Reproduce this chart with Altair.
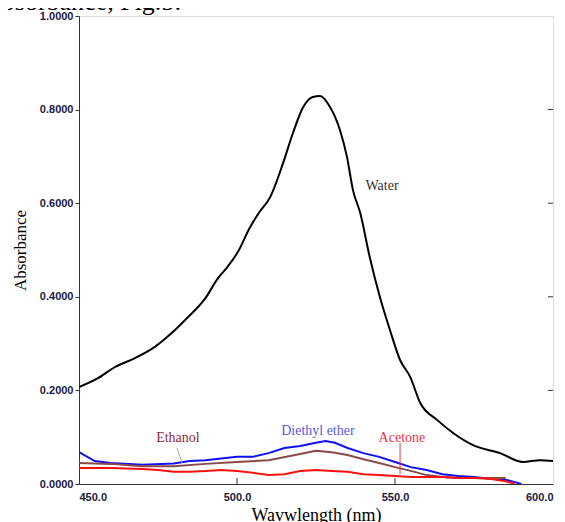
import altair as alt
import pandas as pd

# ---- data ----
water_wl = [450, 456, 461.4, 467.7, 474, 479.4, 483.5, 490, 494, 497, 500.3, 504, 507, 510.5,
            514.6, 517.7, 521, 524, 526.3, 529.4, 532.6, 534.8, 536.7, 539, 542, 545.2,
            548.4, 551.6, 554.8, 558, 563.3, 568.4, 574.7, 583.2, 590.5, 595.9, 600]
water_abs = [0.207, 0.226, 0.250, 0.269, 0.293, 0.323, 0.350, 0.397, 0.440, 0.464, 0.496, 0.547,
             0.580, 0.613, 0.686, 0.750, 0.806, 0.827, 0.829, 0.806, 0.756, 0.699, 0.628, 0.579,
             0.485, 0.400, 0.329, 0.265, 0.229, 0.173, 0.137, 0.109, 0.083, 0.066, 0.047, 0.051, 0.049]

ether_wl = [450, 455, 460, 470, 480, 485, 490, 500, 505, 510, 515, 520, 525, 528, 531, 535,
            540, 545, 550, 555, 560, 565, 570, 575, 580, 585, 588, 590]
ether_abs = [0.068, 0.049, 0.045, 0.041, 0.044, 0.049, 0.051, 0.058, 0.058, 0.066, 0.077, 0.081,
             0.088, 0.092, 0.088, 0.077, 0.066, 0.058, 0.047, 0.036, 0.030, 0.021, 0.017, 0.015,
             0.011, 0.009, 0.004, 0.0]

ethanol_wl = [450, 460, 470, 480, 490, 500, 510, 520, 525, 530, 535, 540, 545, 550, 555, 560,
              565, 570, 575, 580, 585]
ethanol_abs = [0.045, 0.043, 0.038, 0.038, 0.043, 0.047, 0.051, 0.064, 0.071, 0.068, 0.062, 0.053,
               0.045, 0.036, 0.028, 0.019, 0.015, 0.013, 0.013, 0.013, 0.013]

acetone_wl = [450, 460, 470, 475, 480, 485, 490, 495, 500, 505, 510, 515, 520, 525, 530, 535,
              540, 545, 550, 555, 560, 565, 570, 575, 580, 585, 588]
acetone_abs = [0.034, 0.034, 0.032, 0.030, 0.026, 0.026, 0.028, 0.030, 0.028, 0.024, 0.019, 0.021,
               0.028, 0.030, 0.028, 0.026, 0.021, 0.019, 0.017, 0.015, 0.015, 0.015, 0.013, 0.013,
               0.011, 0.006, 0.0]

series_names = ["Water", "Diethyl ether", "Ethanol", "Acetone"]
series_colors = ["#000000", "#1010f0", "#8a4a4a", "#ff1010"]

x_ticks = [450, 500, 550, 600]
y_ticks = [0.0, 0.2, 0.4, 0.6, 0.8, 1.0]

labels = ["Water", "Ethanol", "Diethyl ether", "Acetone"]
label_wl = [545.9, 481.3, 525.6, 552.2]
label_abs = [0.637, 0.098, 0.113, 0.098]
label_colors = ["#333333", "#8b2a3a", "#5a5ae0", "#ee3344"]

# ---- tables ----
rows = []
for name, wl, ab in [("Water", water_wl, water_abs), ("Diethyl ether", ether_wl, ether_abs),
                     ("Ethanol", ethanol_wl, ethanol_abs), ("Acetone", acetone_wl, acetone_abs)]:
    for i, (w, a) in enumerate(zip(wl, ab)):
        rows.append({"series": name, "wl": w, "abs": a, "order": i})
df = pd.DataFrame(rows)

lab_df = pd.DataFrame({"text": labels, "wl": label_wl, "abs": label_abs, "col": label_colors})

xs = alt.Scale(domain=[450, 600], nice=False, zero=False)
ys = alt.Scale(domain=[0, 1.0], nice=False)
cs = alt.Scale(domain=series_names, range=series_colors)

x_enc = alt.X("wl:Q", scale=xs, title="Wavwlength (nm)",
              axis=alt.Axis(values=x_ticks, format=".1f", ticks=False, grid=False,
                            labelFont="Liberation Sans", labelFontWeight="bold", labelFontSize=11,
                            labelColor="#1a1a40", labelPadding=7, domainColor="#333333",
                            titleFont="Liberation Serif", titleFontSize=18, titleFontWeight="normal",
                            titleColor="#000000", titlePadding=4))
y_enc = alt.Y("abs:Q", scale=ys, title="Absorbance",
              axis=alt.Axis(values=y_ticks, format=".4f", tickSize=4, grid=False,
                            tickColor="#333333", domainColor="#333333",
                            labelFont="Liberation Sans", labelFontWeight="bold", labelFontSize=11,
                            labelColor="#1a1a40", labelPadding=2,
                            titleFont="Liberation Serif", titleFontSize=17, titleFontWeight="normal",
                            titleColor="#000000", titlePadding=10))

water = alt.Chart(df[df.series == "Water"]).mark_line(
    strokeWidth=2, clip=True, interpolate="monotone").encode(
    x=x_enc, y=y_enc,
    color=alt.Color("series:N", scale=cs, legend=None),
    order="order:Q",
)

others = alt.Chart(df[df.series != "Water"]).mark_line(strokeWidth=2, clip=True).encode(
    x=alt.X("wl:Q", scale=xs), y=alt.Y("abs:Q", scale=ys),
    color=alt.Color("series:N", scale=cs, legend=None),
    detail="series:N",
    order="order:Q",
)

tick_df = pd.DataFrame({"wl": x_ticks[1:3]})
xtick_marks = alt.Chart(tick_df).mark_rule(color="#333333", strokeWidth=1).encode(
    x=alt.X("wl:Q", scale=xs), y=alt.value(468), y2=alt.value(462))

ytick_df = pd.DataFrame({"abs": y_ticks[1:5]})
ytick_right = alt.Chart(ytick_df).mark_rule(color="#333333", strokeWidth=1).encode(
    y=alt.Y("abs:Q", scale=ys), x=alt.value(469), x2=alt.value(474))

texts = alt.Chart(lab_df).mark_text(font="Liberation Serif", fontSize=14).encode(
    x=alt.X("wl:Q", scale=xs), y=alt.Y("abs:Q", scale=ys),
    text="text:N", color=alt.Color("col:N", scale=None))

leader_df = pd.DataFrame({"wl": [481.0, 551.6], "wl2": [482.6, 551.6],
                          "a": [0.077, 0.088], "a2": [0.045, 0.021],
                          "col": ["#c8a080", "#ee3344"]})
leaders = alt.Chart(leader_df).mark_rule(strokeWidth=1).encode(
    x=alt.X("wl:Q", scale=xs), x2="wl2:Q", y=alt.Y("a:Q", scale=ys), y2="a2:Q",
    color=alt.Color("col:N", scale=None))

top_text = alt.Chart(pd.DataFrame({"t": ["Absorbance, Fig.5:"]})).mark_text(
    font="Liberation Serif", fontSize=26, align="left", baseline="alphabetic", color="#000000"
).encode(x=alt.value(-96), y=alt.value(-6), text="t:N")

chart = alt.layer(water, others, xtick_marks, ytick_right, leaders, texts, top_text).properties(
    width=474, height=468,
    autosize=alt.AutoSizeParams(type="none"),
    padding={"left": 71, "top": 8, "right": 4, "bottom": 46},
).configure_view(stroke="#333333", strokeWidth=1).configure(background="white")

chart.save("out.html", embed_options={"renderer": "svg", "actions": False})
